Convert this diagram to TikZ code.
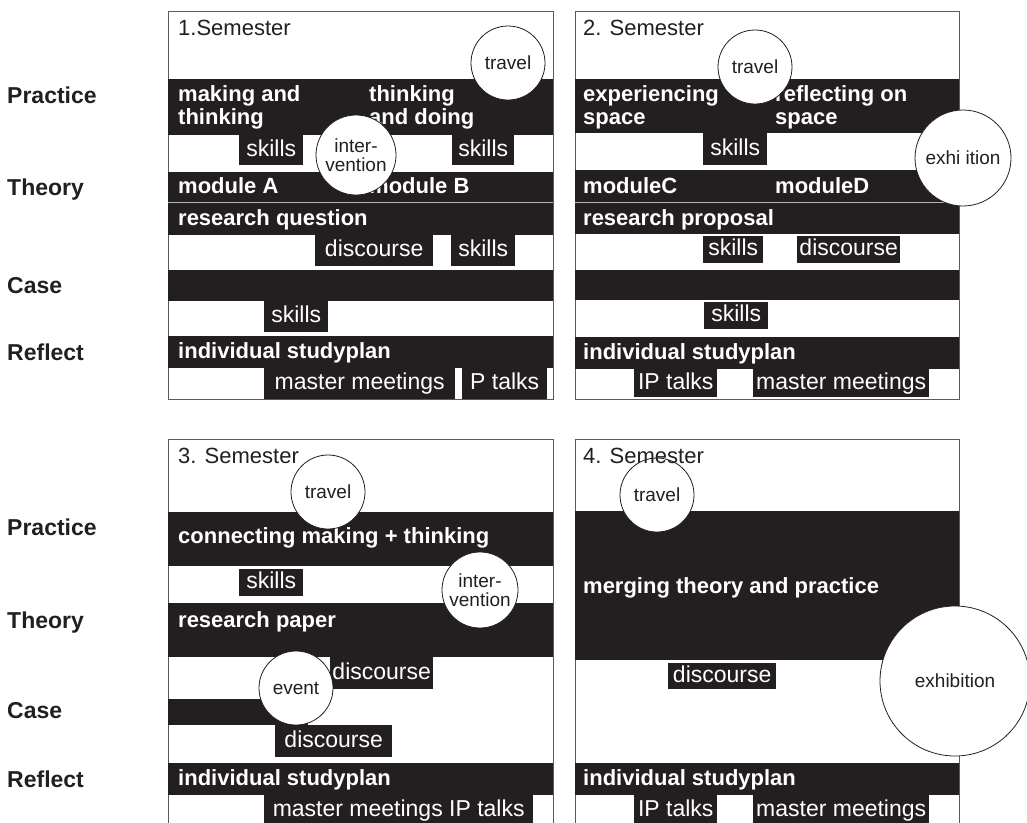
\documentclass[tikz,border=0pt]{standalone}
\usepackage{fontspec}
\setmainfont{Liberation Sans}
\usepackage{tikz}
\usetikzlibrary{positioning}

\definecolor{ink}{HTML}{231F20}
\definecolor{rim}{HTML}{5A5A5A}
\definecolor{seam}{HTML}{B4B4B4}

\newcommand{\rowfont}{\fontsize{23}{24}\selectfont\bfseries}
\newcommand{\headfont}{\fontsize{22}{23}\selectfont\bfseries}
\newcommand{\titlefont}{\fontsize{22}{24}\selectfont}
\newcommand{\tagfont}{\fontsize{23}{24}\selectfont}
\newcommand{\blobfont}{\fontsize{19}{19.5}\selectfont}

\begin{document}
\begin{tikzpicture}[x=1pt, y=-1pt,
    frame/.style={draw=rim, line width=1pt, fill=white},
    band/.style={fill=ink},
    rowlab/.style={font=\rowfont, text=ink, anchor=base west, inner sep=0},
    head/.style={font=\headfont, text=white, anchor=base west, inner sep=0, align=left},
    title/.style={font=\titlefont, text=ink, anchor=base west, inner sep=0},
    tag/.style={fill=ink, text=white, font=\tagfont, inner sep=0, anchor=north west,
                text height=16.5pt, text depth=4.5pt},
    blob/.style={circle, draw=ink, line width=0.8pt, fill=white, text=ink,
                 font=\blobfont, inner sep=0, align=center}]
	\useasboundingbox (0,0) rectangle (1027,822);
	\clip (0,0) rectangle (1027,822);

	% row labels
	\node[rowlab] (prac1) at (7,103) {Practice};
	\node[rowlab] (theo1) at (7,195) {Theory};
	\node[rowlab] (case1) at (7,293) {Case};
	\node[rowlab] (refl1) at (7,360) {Reflect};
	\node[rowlab] (prac3) at (7,535) {Practice};
	\node[rowlab] (theo3) at (7,628) {Theory};
	\node[rowlab] (case3) at (7,718) {Case};
	\node[rowlab] (refl3) at (7,787) {Reflect};

	% 1. semester
	\draw[frame] (168,11) rectangle (553,399);
	\path[band] (168,79) rectangle (553,135);
	\path[band] (168,172) rectangle (553,202);
	\path[band] (168,203) rectangle (553,235);
	\draw[seam] (168,202.5) -- (553,202.5);
	\path[band] (168,270) rectangle (553,301);
	\path[band] (168,336) rectangle (553,368);

	\node[head, anchor=north west] (mt1) at (178,85) {making and\\thinking};
	\node[head, anchor=north west] (td1) at (369,85) {thinking\\and doing};
	\node[head] (ma1) at (178,193) {module A};
	\node[head] (mb1) at (369,193) {module B};
	\node[head] (rq1) at (178,225) {research question};
	\node[head] (sp1) at (178,358) {individual studyplan};

	\node[tag, minimum width=64, minimum height=30] (sk1a) at (239,135) {skills};
	\node[tag, minimum width=62, minimum height=30] (sk1b) at (452,135) {skills};
	\node[tag, minimum width=118, minimum height=31] (di1) at (315,235) {discourse};
	\node[tag, minimum width=64, minimum height=31] (sk1c) at (451,235) {skills};
	\node[tag, minimum width=64, minimum height=31] (sk1d) at (264,301) {skills};
	\node[tag, minimum width=191, minimum height=31] (mm1) at (264,368) {master meetings};
	\node[tag, minimum width=85, minimum height=31] (ip1) at (462,368) {P talks};

	\node[blob, minimum size=74] (tr1) at (508,63) {travel};
	\node[blob, minimum size=80] (iv1) at (356,155) {inter-\\vention};
	\node[title] (s1) at (178,35) {1.Semester};

	% 2. semester
	\draw[frame] (575,11) rectangle (959,399);
	\path[band] (575,79) rectangle (959,133);
	\path[band] (575,170) rectangle (959,202);
	\path[band] (575,203) rectangle (959,234);
	\draw[seam] (575,202.5) -- (959,202.5);
	\path[band] (575,270) rectangle (959,300);
	\path[band] (575,337) rectangle (959,369);

	\node[head, anchor=north west] (es2) at (583,85) {experiencing\\space};
	\node[head, anchor=north west] (rs2) at (775,85) {reflecting on\\space};
	\node[head] (mc2) at (583,193) {moduleC};
	\node[head] (md2) at (775,193) {moduleD};
	\node[head] (rp2) at (583,225) {research proposal};
	\node[head] (sp2) at (583,359) {individual studyplan};

	\node[tag, minimum width=64, minimum height=32] (sk2a) at (703,133) {skills};
	\node[tag, minimum width=60, minimum height=27] (sk2b) at (703,236) {skills};
	\node[tag, minimum width=103, minimum height=27] (di2) at (797,236) {discourse};
	\node[tag, minimum width=64, minimum height=27] (sk2c) at (704,302) {skills};
	\node[tag, minimum width=83, minimum height=28] (ip2) at (634,369) {IP talks};
	\node[tag, minimum width=176, minimum height=28] (mm2) at (753,369) {master meetings};

	\node[blob, minimum size=74] (tr2) at (755,67) {travel};
	\node[blob, minimum size=96] (ex2) at (963,158) {exhi ition};
	\node[title] (s2) at (583,35) {2. Semester};

	% 3. semester
	\draw[frame] (168,439) rectangle (553,830);
	\path[band] (168,512) rectangle (553,566);
	\path[band] (168,603) rectangle (553,657);
	\path[band] (168,699) rectangle (308,725);
	\path[band] (168,763) rectangle (553,795);

	\node[head] (cm3) at (178,543) {connecting making + thinking};
	\node[head] (rp3) at (178,627) {research paper};
	\node[head] (sp3) at (178,785) {individual studyplan};

	\node[tag, minimum width=64, minimum height=27] (sk3) at (239,569) {skills};
	\node[tag, minimum width=103, minimum height=32] (di3a) at (330,657) {discourse};
	\node[tag, minimum width=117, minimum height=32] (di3b) at (275,725) {discourse};
	\node[tag, minimum width=269, minimum height=30] (mm3) at (264,795) {master meetings IP talks};

	\node[blob, minimum size=74] (tr3) at (328,492) {travel};
	\node[blob, minimum size=76] (iv3) at (480,590) {inter-\\vention};
	\node[blob, minimum size=74] (ev3) at (296,688) {event};
	\node[title] (s3) at (178,463) {3. Semester};

	% 4. semester
	\draw[frame] (575,439) rectangle (959,830);
	\path[band] (575,511) rectangle (959,660);
	\path[band] (575,763) rectangle (959,795);

	\node[head] (mg4) at (583,593) {merging theory and practice};
	\node[head] (sp4) at (583,785) {individual studyplan};

	\node[tag, minimum width=108, minimum height=26] (di4) at (668,663) {discourse};
	\node[tag, minimum width=83, minimum height=30] (ip4) at (634,795) {IP talks};
	\node[tag, minimum width=176, minimum height=30] (mm4) at (753,795) {master meetings};

	\node[blob, minimum size=74] (tr4) at (657,495) {travel};
	\node[blob, minimum size=150] (ex4) at (955,681) {exhibition};
	\node[title] (s4) at (583,463) {4. Semester};
\end{tikzpicture}
\end{document}
